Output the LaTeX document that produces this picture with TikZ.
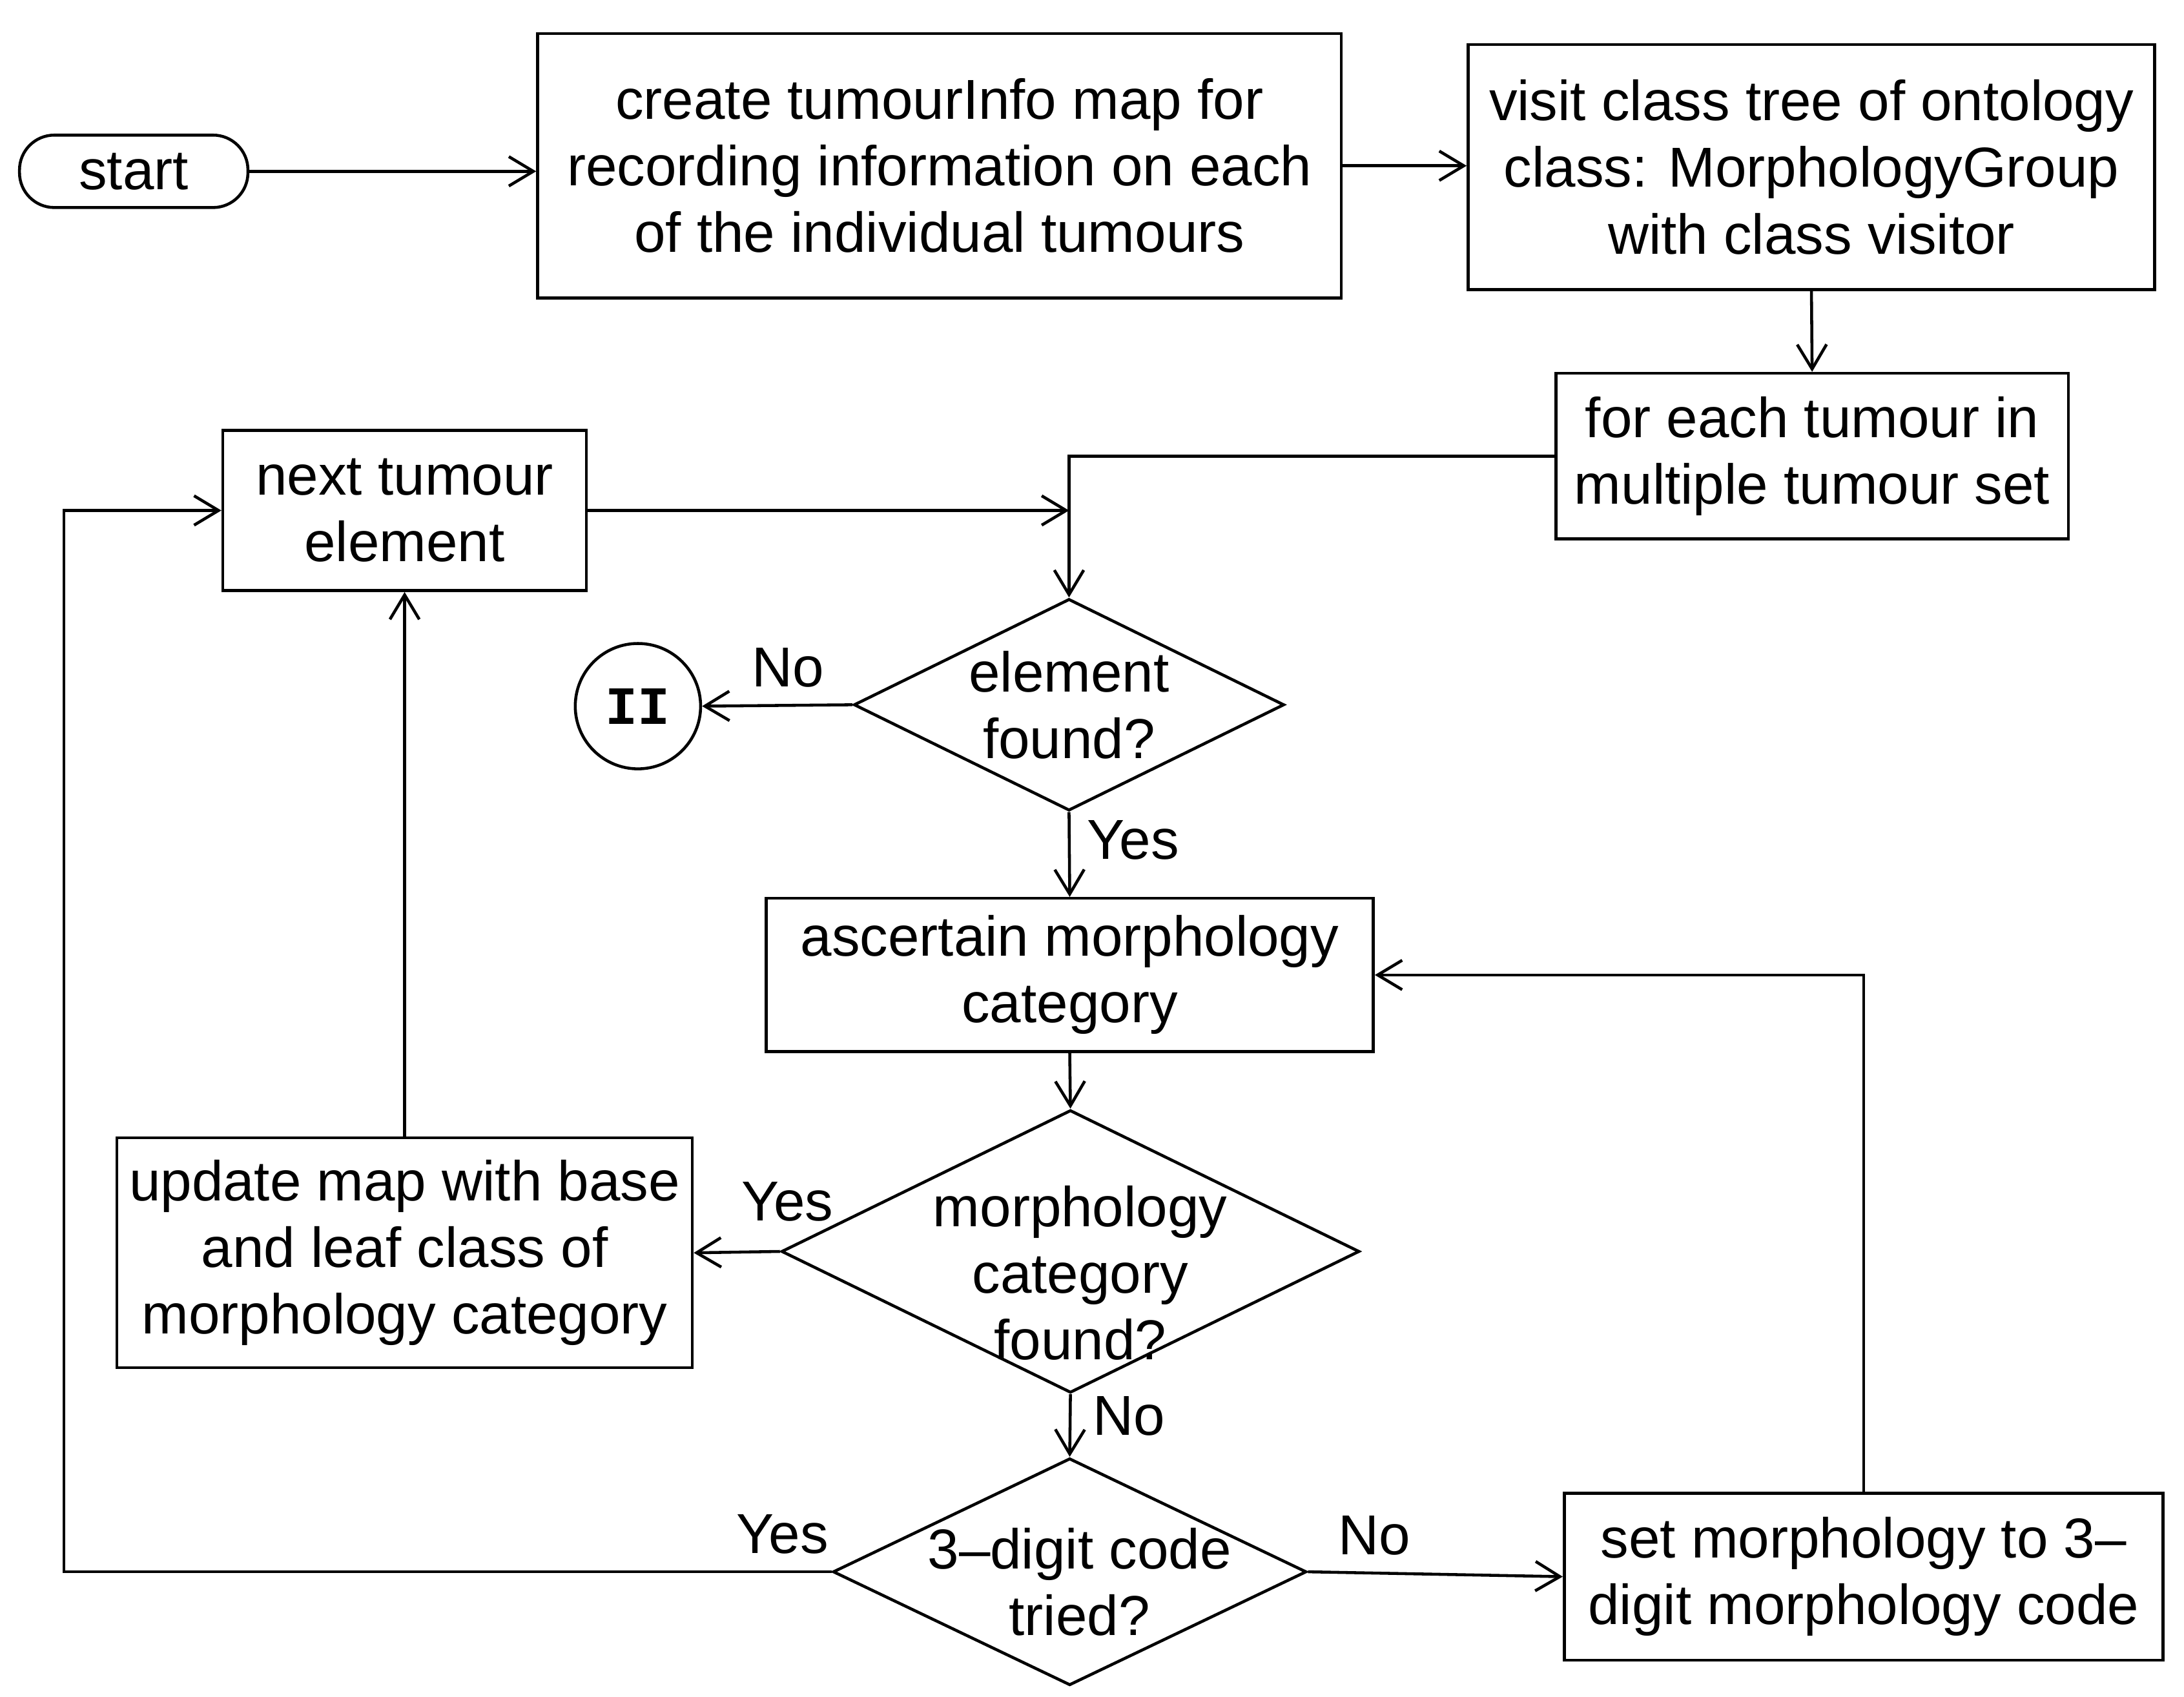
\documentclass[tikz,border=0pt]{standalone}
\usepackage{fontspec}
\setmainfont{Liberation Sans}
\setmonofont{Liberation Mono}
\usetikzlibrary{arrows.meta}
\usetikzlibrary{shapes.geometric}
\usetikzlibrary{positioning}
\tikzset{box/.style = {draw, rectangle, align = center, inner sep = 1pt}}
\tikzset{decision/.style = {draw, diamond, inner sep = 0}}
\tikzset{dtext/.style = {align = center, inner sep = 0}}
\tikzset{arr/.style = {-{Straight Barb[length = 5pt, width = 6pt]}}}

\begin{document}
\begin{tikzpicture}[line width = 0.6pt, font = \fontsize{11.5}{13.6}\selectfont]
  \useasboundingbox (0, 0) rectangle (15.68, -12.18);

  % top row
  \node [draw, rounded corners = 2.5mm, inner sep = 1pt, minimum width = 1.64cm, minimum height = 0.52cm] (start) at (0.96, -1.23) {start};
  \node [box, minimum width = 5.77cm, minimum height = 1.90cm] (create) at (6.745, -1.19) {create tumourInfo map for\\recording information on each\\of the individual tumours};
  \node [box, minimum width = 4.93cm, minimum height = 1.76cm] (visit) at (13.005, -1.20) {visit class tree of ontology\\class: MorphologyGroup\\with class visitor};
  \node [box, minimum width = 3.68cm, minimum height = 1.19cm] (foreach) at (13.01, -3.275) {for each tumour in\\multiple tumour set};
  \node [box, minimum width = 2.61cm, minimum height = 1.15cm] (next) at (2.905, -3.665) {next tumour\\element};

  % decisions and steps
  \node [decision, minimum width = 3.09cm, minimum height = 1.52cm] (found) at (7.675, -5.06) {};
  \node [dtext] (foundtxt) at (found.center) {element\\found?};
  \node [draw, circle, minimum size = 0.90cm, inner sep = 0, font = \fontsize{11}{13}\ttfamily\bfseries] (ii) at (4.58, -5.07) {II};
  \node [box, minimum width = 4.36cm, minimum height = 1.10cm] (ascert) at (7.68, -7.00) {ascertain morphology\\category};
  \node [decision, minimum width = 4.15cm, minimum height = 2.03cm] (morph) at (7.685, -8.985) {};
  \node [dtext] (morphtxt) at ([shift = {(0.07, -0.155)}] morph.center) {morphology\\category\\found?};
  \node [box, minimum width = 4.13cm, minimum height = 1.65cm] (update) at (2.905, -8.995) {update map with base\\and leaf class of\\morphology category};
  \node [decision, minimum width = 3.40cm, minimum height = 1.63cm] (code) at (7.68, -11.285) {};
  \node [dtext] (codetxt) at ([shift = {(0.07, -0.075)}] code.center) {3--digit code\\tried?};
  \node [box, minimum width = 4.30cm, minimum height = 1.20cm] (setcode) at (13.38, -11.32) {set morphology to 3--\\digit morphology code};

  \coordinate (join) at (next.east -| found.north);
  \coordinate (loopx) at (0.46, -12);

  \draw [arr] (start.east) -- (start.east -| create.west);
  \draw [arr] (create.east) -- (create.east -| visit.west);
  \draw [arr] (visit.south) -- (foreach.north);
  \draw [arr] (foreach.west) -| (found.north);
  \draw [arr] (next.east) -- (join);
  \draw [arr] (found.west) -- node [pos = 0.43, above] (noii) {No} (ii.east);
  \draw [arr] (found.south) -- node [pos = 0.33, right] (yesfound) {Yes} (ascert.north);
  \draw [arr] (ascert.south) -- (morph.north);
  \draw [arr] (morph.west) -- node [pos = 0, anchor = south, xshift = 1.5pt, yshift = 2.5pt] (yesmorph) {Yes} (update.east);
  \draw [arr] (update.north) -- (next.south);
  \draw [arr] (morph.south) -- node [pos = 0.35, right, xshift = 1pt] (nomorph) {No} (code.north);
  \draw [arr] (code.west) -- node [pos = 0, above left, xshift = 3pt] (yescode) {Yes} (code.west -| loopx) |- (next.west);
  \draw [arr] (code.east) -- node [pos = 0.26, above] (nocode) {No} (setcode.west);
  \draw [arr] (setcode.north) |- (ascert.east);
\end{tikzpicture}
\end{document}
